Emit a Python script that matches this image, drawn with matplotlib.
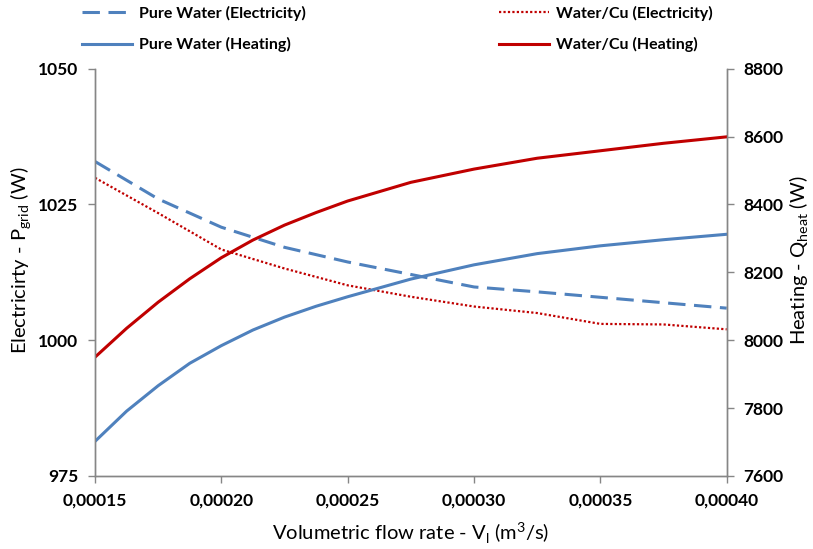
import numpy as np
import matplotlib
matplotlib.use('Agg')
import matplotlib.pyplot as plt

plt.rcParams['font.family'] = ['Lato', 'DejaVu Sans']
plt.rcParams['mathtext.fontset'] = 'custom'
plt.rcParams['mathtext.rm'] = 'Lato'

# data
flow = [0.00015, 0.000175, 0.00020, 0.000225, 0.00025, 0.000275,
        0.00030, 0.000325, 0.00035, 0.000375, 0.00040]
elec_water = [1032.9, 1026.0, 1020.8, 1017.1, 1014.4, 1012.1,
              1009.8, 1008.9, 1007.9, 1006.9, 1005.9]
elec_cu = [1029.9, 1023.4, 1016.7, 1013.2, 1010.1, 1008.0,
           1006.2, 1005.0, 1003.0, 1002.9, 1002.0]

# heating curves bend more on the left, so more readings there
flow_heat = [0.00015, 0.0001625, 0.000175, 0.0001875, 0.00020, 0.0002125,
             0.000225, 0.0002375, 0.00025, 0.000275, 0.00030, 0.000325,
             0.00035, 0.000375, 0.00040]
heat_water = [7702, 7791, 7866, 7932, 7984, 8030, 8068, 8100, 8128,
              8180, 8222, 8255, 8278, 8296, 8312]
heat_cu = [7950, 8035, 8112, 8181, 8243, 8295, 8339, 8376, 8410,
           8465, 8504, 8536, 8558, 8580, 8599]

x_ticks = [0.00015, 0.00020, 0.00025, 0.00030, 0.00035, 0.00040]
x_labels = ['0,00015', '0,00020', '0,00025', '0,00030', '0,00035', '0,00040']
left_ticks = [975, 1000, 1025, 1050]
right_ticks = [7600, 7800, 8000, 8200, 8400, 8600, 8800]

blue = '#4F81BD'
red = '#C00000'
grey = '#868686'

fig = plt.figure(figsize=[8.13, 5.49], dpi=100)
ax = fig.add_axes([95/813, 1-476/549, (726.7-95)/813, (476-68.6)/549])
ax2 = ax.twinx()

l1, = ax.plot(flow, elec_water, color=blue, lw=2.2, dashes=(5.7, 2.8),
              label='Pure Water (Electricity)')
l3, = ax.plot(flow, elec_cu, color=red, lw=1.6, dashes=(1, 1),
              label='Water/Cu (Electricity)')
l2, = ax2.plot(flow_heat, heat_water, color=blue, lw=2.2, label='Pure Water (Heating)')
l4, = ax2.plot(flow_heat, heat_cu, color=red, lw=2.2, label='Water/Cu (Heating)')

ax.set_xlim(0.00015, 0.00040)
ax.set_ylim(975, 1050)
ax2.set_ylim(7600, 8800)
ax.set_xticks(x_ticks)
ax.set_xticklabels(x_labels)
ax.set_yticks(left_ticks)
ax2.set_yticks(right_ticks)

for a in (ax, ax2):
    a.spines['top'].set_visible(False)
    for s in ('left', 'right', 'bottom'):
        a.spines[s].set_color(grey)
        a.spines[s].set_linewidth(1.0)
    a.tick_params(color=grey, length=5, width=1, labelsize=12.5, pad=7)
    for t in a.get_xticklabels() + a.get_yticklabels():
        t.set_fontweight('bold')

ax.set_xlabel(r'Volumetric flow rate - V$_\mathregular{l}$ (m$^\mathregular{3}$/s)',
              fontsize=14.5, labelpad=9)
ax.set_ylabel(r'Electricirty - P$_\mathregular{grid}$ (W)', fontsize=14.5)
ax2.set_ylabel(r'Heating - Q$_\mathregular{heat}$ (W)', fontsize=14.5)
ax.yaxis.set_label_coords(-0.097, 0.53)
ax2.yaxis.set_label_coords(1.097, 0.53)

leg_kw = dict(loc='upper left', frameon=False, borderpad=0, borderaxespad=0,
              handlelength=3.1, handletextpad=0.45, labelspacing=1.0,
              prop={'weight': 'bold', 'size': 11.5})
leg1 = fig.legend([l1, l2], [l1.get_label(), l2.get_label()],
                  bbox_to_anchor=(82/813, 1-6/549), **leg_kw)
leg2 = fig.legend([l3, l4], [l3.get_label(), l4.get_label()],
                  bbox_to_anchor=(499/813, 1-6/549), **leg_kw)

fig.savefig('out.png', dpi=100)
